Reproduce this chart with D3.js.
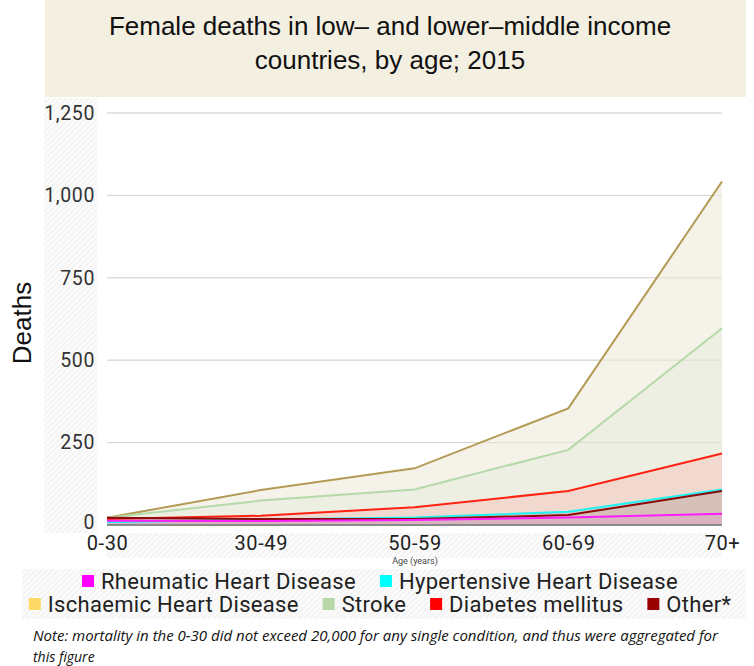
<!DOCTYPE html>
<html><head><meta charset="utf-8">
<script src="https://cdn.jsdelivr.net/npm/d3@7"></script>
<style>
body{margin:0;background:#fff;}
svg{display:block;}
</style></head>
<body>
<svg id="chart" width="754" height="666"></svg>
<script>
const ages = ["0-30","30-49","50-59","60-69","70+"];
const ischaemic    = [22,106,172,354,1042];
const stroke       = [22,74,108,228,597];
const diabetes     = [18,28,54,103,217];
const hypertensive = [8,17,23,40,108];
const other        = [22,18,18,30,103];
const rheumatic    = [13,12,15,23,34];
const yTicks = [0,250,500,750,1000,1250];
const legendRow1 = ["Rheumatic Heart Disease","Hypertensive Heart Disease"];
const legendRow2 = ["Ischaemic Heart Disease","Stroke","Diabetes mellitus","Other*"];

const series = [
  {name:"Ischaemic Heart Disease", values:ischaemic, line:"#b39b56", fill:"#f5f2e9", sw:"#ffd966"},
  {name:"Stroke", values:stroke, line:"#b5d9a8", fill:"#edefe2", sw:"#b6d7a8"},
  {name:"Diabetes mellitus", values:diabetes, line:"#ff2212", fill:"#f2d9cf", sw:"#ff0000"},
  {name:"Hypertensive Heart Disease", values:hypertensive, line:"#1ef2f2", fill:"#d8c8c0", sw:"#00ffff"},
  {name:"Other*", values:other, line:"#8b0a0a", fill:"#d6c1b9", sw:"#990000"},
  {name:"Rheumatic Heart Disease", values:rheumatic, line:"#ff1cff", fill:"#d9b3bf", sw:"#ff00ff"}
];
const swatch = Object.fromEntries(series.map(s=>[s.name,s.sw]));

const svg = d3.select("#chart");
const defs = svg.append("defs");
const pat = defs.append("pattern").attr("id","hatch").attr("patternUnits","userSpaceOnUse")
  .attr("width",4).attr("height",4).attr("patternTransform","rotate(45)");
pat.append("rect").attr("width",4).attr("height",4).attr("fill","#fbfbfb");
pat.append("line").attr("x1",0).attr("y1",0).attr("x2",0).attr("y2",4).attr("stroke","#ebebeb").attr("stroke-width",1.5);

// title box
svg.append("rect").attr("x",45).attr("y",0).attr("width",701).attr("height",97).attr("fill","#f3efe1");
svg.append("text").attr("x",390).attr("y",35).attr("text-anchor","middle")
  .attr("font-family","Liberation Sans, Arial, sans-serif").attr("font-size",26).attr("fill","#111")
  .text("Female deaths in low\u2013 and lower\u2013middle income");
svg.append("text").attr("x",390).attr("y",69).attr("text-anchor","middle")
  .attr("font-family","Liberation Sans, Arial, sans-serif").attr("font-size",26).attr("fill","#111")
  .text("countries, by age; 2015");

// hatched bands
svg.append("rect").attr("x",44).attr("y",98).attr("width",53).attr("height",435).attr("fill","url(#hatch)");
svg.append("rect").attr("x",107).attr("y",533).attr("width",615).attr("height",25).attr("fill","url(#hatch)");
svg.append("rect").attr("x",22).attr("y",569).attr("width",724).attr("height",50).attr("fill","url(#hatch)");

const x = d3.scalePoint().domain(ages).range([107,722]);
const y = d3.scaleLinear().domain([0,1250]).range([525,113]);

// gridlines
svg.append("g").selectAll("line").data(yTicks.filter(d=>d>0)).join("line")
  .attr("x1",107).attr("x2",722).attr("y1",d=>y(d)).attr("y2",d=>y(d))
  .attr("stroke","#dcdcdc").attr("stroke-width",1);

// areas
const area = d3.area().x((d,i)=>x(ages[i])).y0(y(0)).y1(d=>y(d));
const line = d3.line().x((d,i)=>x(ages[i])).y(d=>y(d));
svg.append("g").selectAll("path").data(series).join("path")
  .attr("d",s=>area(s.values)).attr("fill",s=>s.fill);
svg.append("g").selectAll("line").data(yTicks.filter(d=>d>0)).join("line")
  .attr("x1",107).attr("x2",722).attr("y1",d=>y(d)).attr("y2",d=>y(d))
  .attr("stroke","#d0ccc0").attr("stroke-opacity",0.5).attr("stroke-width",1);
svg.append("g").selectAll("path").data(series).join("path")
  .attr("d",s=>line(s.values)).attr("fill","none").attr("stroke",s=>s.line).attr("stroke-width",2);

// baseline
svg.append("line").attr("x1",107).attr("x2",722).attr("y1",y(0)).attr("y2",y(0))
  .attr("stroke","#8a8a8a").attr("stroke-width",2);

// y axis
const yAxis = svg.append("g").attr("transform","translate(107,0)")
  .call(d3.axisLeft(y).tickValues(yTicks).tickFormat(d3.format(",")).tickSize(0).tickPadding(12));
yAxis.select(".domain").remove();
yAxis.selectAll("text").attr("font-family","Roboto, sans-serif").attr("font-size",19.5)
  .attr("fill","#333").attr("letter-spacing","0.6px");
yAxis.selectAll(".tick").filter(d=>d===0).select("text").attr("dy","0.2em");

// x axis
const xAxis = svg.append("g").attr("transform","translate(0,525)")
  .call(d3.axisBottom(x).tickSize(0).tickPadding(11));
xAxis.select(".domain").remove();
xAxis.selectAll("text").attr("font-family","Roboto, sans-serif").attr("font-size",20)
  .attr("fill","#222").attr("letter-spacing","0.6px");

svg.append("text").attr("x",415).attr("y",564).attr("text-anchor","middle")
  .attr("font-family","Roboto, sans-serif").attr("font-size",9).attr("fill","#444").text("Age (years)");

svg.append("text").attr("transform","translate(31,323) rotate(-90)").attr("text-anchor","middle")
  .attr("font-family","Liberation Sans, Arial, sans-serif").attr("font-size",26).attr("fill","#111").text("Deaths");

// legend
function legendRow(items, cy){
  const g = svg.append("g");
  const gap = 24, sq = 12, pad = 7;
  const entries = items.map(name=>{
    const t = g.append("text").attr("font-family","Roboto, sans-serif").attr("font-size",22)
      .attr("fill","#222").attr("letter-spacing","0.3px").attr("y",cy+8).text(name);
    return {name, t, w:t.node().getComputedTextLength()};
  });
  const total = d3.sum(entries, e=>sq+pad+e.w) + gap*(entries.length-1);
  let cx = 380 - total/2;
  entries.forEach(e=>{
    g.append("rect").attr("x",cx).attr("y",cy-sq/2).attr("width",sq).attr("height",sq).attr("fill",swatch[e.name]);
    e.t.attr("x",cx+sq+pad);
    cx += sq+pad+e.w+gap;
  });
}
legendRow(legendRow1, 581);
legendRow(legendRow2, 604);

// note
const note = svg.append("text").attr("font-family","Open Sans, sans-serif").attr("font-style","italic")
  .attr("font-size",14).attr("fill","#111");
note.append("tspan").attr("x",33).attr("y",641).attr("textLength",685).attr("lengthAdjust","spacingAndGlyphs")
  .text("Note: mortality in the 0-30 did not exceed 20,000 for any single condition, and thus were aggregated for");
note.append("tspan").attr("x",33).attr("y",662).text("this figure");
</script>
</body></html>
